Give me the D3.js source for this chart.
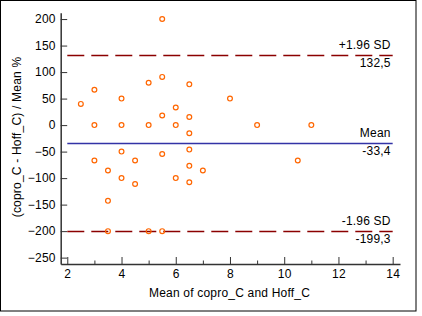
<!DOCTYPE html>
<html>
<head>
<meta charset="utf-8">
<script src="https://cdn.jsdelivr.net/npm/d3@7"></script>
<style>
  html, body { margin: 0; padding: 0; background: #fff; }
  svg { display: block; }
  text { font-family: "Liberation Sans", Arial, sans-serif; font-size: 12px; fill: #000; letter-spacing: 0.2px; }
</style>
</head>
<body>
<svg id="chart" width="422" height="316"></svg>
<script>
// Data: mean of the two methods (x) and percentage difference (y)
const meanValues = [2.5, 3, 3, 3, 3.5, 3.5, 3.5, 4, 4, 4, 4, 4.5, 4.5, 5, 5, 5, 5.5, 5.5, 5.5, 5.5, 5.5, 6, 6, 6, 6.5, 6.5, 6.5, 6.5, 6.5, 6.5, 7, 8, 9, 10.5, 11];
const pctDiffs   = [40, 66.7, 0, -66.7, -85.7, -142.9, -200, 50, 0, -50, -100, -66.7, -111.1, 80, 0, -200, 200, 90.9, 18.2, -54.5, -200, 33.3, 0, -100, 76.9, 15.4, -15.4, -46.2, -76.9, -107.7, -85.7, 50, 0, -66.7, 0];

// Reference lines
const refNames  = ["+1.96 SD", "Mean", "-1.96 SD"];
const refValues = [132.5, -33.4, -199.3];
const refLabels = ["132,5", "-33,4", "-199,3"];

// Ticks
const xTicks = [2, 4, 6, 8, 10, 12, 14];
const xMinorTicks = [3, 5, 7, 9, 11, 13];
const yTicks = [200, 150, 100, 50, 0, -50, -100, -150, -200, -250];

const xTitle = "Mean of copro_C and Hoff_C";
const yTitle = "(copro_C - Hoff_C) / Mean %";

const svg = d3.select("#chart");

// outer frame
svg.append("rect").attr("x", 0.5).attr("y", 0.5).attr("width", 415.5).attr("height", 310.5)
  .attr("fill", "none").attr("stroke", "#000").attr("stroke-width", 1);

const x = d3.scaleLinear().domain([1.757, 14.27]).range([60.7, 400]);
const y = d3.scaleLinear().domain([-262, 212]).range([264, 12.7]);

const axisColor = "#333";

// x axis
const gx = svg.append("g").attr("transform", `translate(0,${y(-262)})`)
  .call(d3.axisBottom(x).tickValues(xTicks).tickFormat(d3.format("d"))
    .tickSizeInner(-7).tickSizeOuter(0).tickPadding(5));
gx.select(".domain").attr("stroke", axisColor).attr("stroke-width", 1.5);
gx.selectAll(".tick line").attr("stroke", axisColor);
gx.selectAll(".tick text").attr("font-family", null).attr("font-size", null).attr("fill", "#000").attr("dy", "0.72em");
gx.selectAll(".minor").data(xMinorTicks).enter().append("line")
  .attr("class", "minor")
  .attr("x1", d => x(d) + 0.5).attr("x2", d => x(d) + 0.5)
  .attr("y1", 0).attr("y2", -3.5)
  .attr("stroke", axisColor);

// y axis
const gy = svg.append("g").attr("transform", `translate(${x(1.757)},0)`)
  .call(d3.axisLeft(y).tickValues(yTicks).tickFormat(d3.format("d"))
    .tickSizeInner(-6.5).tickSizeOuter(0).tickPadding(5));
gy.select(".domain").attr("stroke", axisColor).attr("stroke-width", 1.5);
gy.selectAll(".tick line").attr("stroke", axisColor);
gy.selectAll(".tick text").attr("font-family", null).attr("font-size", null).attr("fill", "#000");

// reference lines
const refColors = ["#8B0000", "#3333A6", "#8B0000"];
const refDash = ["17,7", null, "17,7"];
refValues.forEach((v, i) => {
  svg.append("line")
    .attr("x1", x(2)).attr("x2", x(14))
    .attr("y1", Math.round(y(v)) + 0.5).attr("y2", Math.round(y(v)) + 0.5)
    .attr("stroke", refColors[i]).attr("stroke-width", 1.4)
    .attr("stroke-dasharray", refDash[i]);
  svg.append("text").attr("x", x(14) - 2).attr("y", y(v) - 6)
    .attr("text-anchor", "end").text(refNames[i]);
  svg.append("text").attr("x", x(14) - 2).attr("y", y(v) + 12)
    .attr("text-anchor", "end").text(refLabels[i]);
});

// points
svg.append("g").selectAll("circle").data(meanValues).enter().append("circle")
  .attr("cx", (d, i) => x(d))
  .attr("cy", (d, i) => y(pctDiffs[i]))
  .attr("r", 2.4)
  .attr("fill", "none")
  .attr("stroke", "#FF6600")
  .attr("stroke-width", 1.2);

// titles
svg.append("text").attr("x", 229.5).attr("y", 297).attr("text-anchor", "middle").text(xTitle);
svg.append("text").attr("transform", "translate(21,137) rotate(-90)")
  .attr("text-anchor", "middle").text(yTitle);
</script>
</body>
</html>
